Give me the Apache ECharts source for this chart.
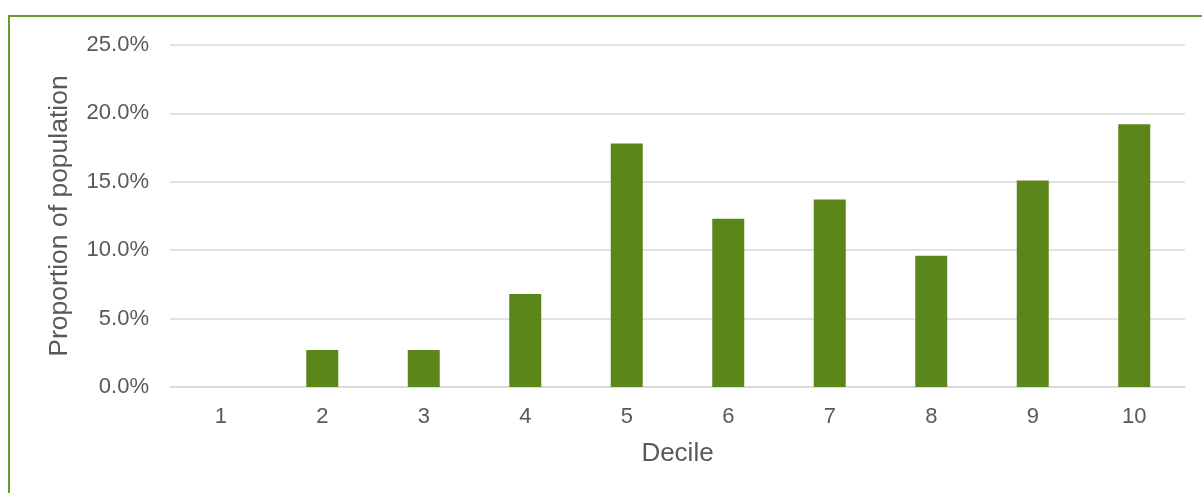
<!DOCTYPE html>
<html>
<head>
<meta charset="utf-8">
<script src="https://cdn.jsdelivr.net/npm/echarts@6/dist/echarts.min.js"></script>
<style>
    html, body { margin: 0; padding: 0; background: #fff; overflow: hidden; }
    #frame {
        position: absolute; left: 8px; top: 15px; width: 1250px; height: 520px;
        border-left: 2px solid #6a9a2c; border-top: 2px solid #6a9a2c;
    }
    #chart { position: absolute; left: 0; top: 0; width: 1202px; height: 493px; }
</style>
</head>
<body>
<div id="frame"></div>
<div id="chart"></div>
<script>
// 十分位数据
var deciles = ['1', '2', '3', '4', '5', '6', '7', '8', '9', '10'];
var proportion = [0, 2.7, 2.7, 6.8, 17.8, 12.3, 13.7, 9.6, 15.1, 19.2]; // %
var yTicks = [0, 5, 10, 15, 20, 25];

var myChart = echarts.init(document.getElementById('chart'));
var textColor = '#595959';
var font = 'Liberation Sans, Arial, sans-serif';

var option = {
    animation: false,
    textStyle: { fontFamily: font },
    grid: {
        left: 170,
        right: 17,
        top: 45,
        bottom: 106
    },
    xAxis: {
        type: 'category',
        data: deciles,
        name: 'Decile',
        nameLocation: 'middle',
        nameGap: 54,
        nameTextStyle: { color: textColor, fontSize: 26, fontFamily: font },
        axisLine: { lineStyle: { color: '#d9d9d9', width: 1.5 } },
        axisTick: { show: false },
        axisLabel: { color: textColor, fontSize: 22, margin: 19, fontFamily: font }
    },
    yAxis: {
        type: 'value',
        min: yTicks[0],
        max: yTicks[yTicks.length - 1],
        interval: 5,
        name: 'Proportion of population',
        nameLocation: 'middle',
        nameGap: 97,
        nameTextStyle: { color: textColor, fontSize: 26.5, fontFamily: font },
        axisLine: { show: false },
        axisTick: { show: false },
        axisLabel: {
            color: textColor, fontSize: 22, margin: 21, fontFamily: font,
            formatter: function (v) { return v.toFixed(1) + '%'; }
        },
        splitLine: { lineStyle: { color: '#d9d9d9', width: 1.5 } }
    },
    series: [
        {
            name: 'Proportion',
            type: 'bar',
            barWidth: 32,
            data: proportion,
            itemStyle: { color: '#5b871a' }
        }
    ]
};

myChart.setOption(option);
</script>
</body>
</html>
